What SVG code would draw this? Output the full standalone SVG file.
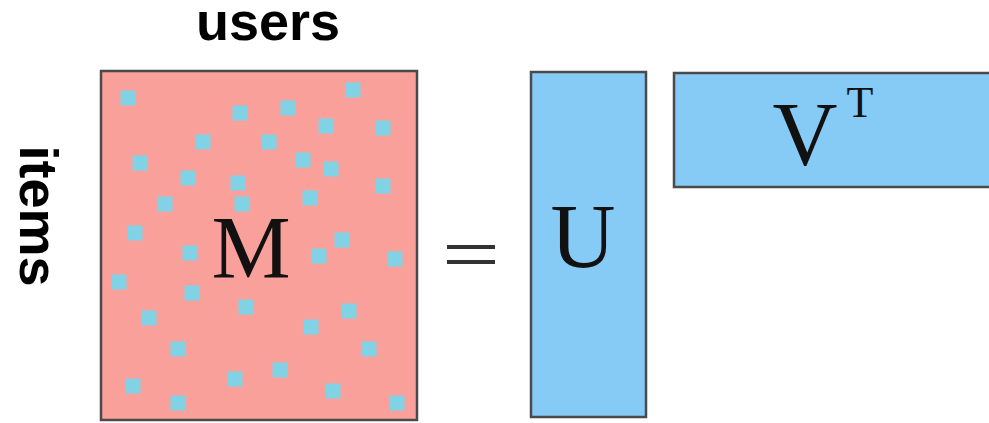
<svg xmlns="http://www.w3.org/2000/svg" width="989" height="423" viewBox="0 0 989 423">
<style>
.lbl{font-family:"Liberation Sans",Arial,sans-serif;font-weight:bold;font-size:54px;fill:#000}
.sym{font-family:"Liberation Serif","Times New Roman",serif;fill:#111}
.mat{stroke:#4a4a4a;stroke-width:2.5}
.dot{fill:#82d2e6}
</style>
<defs>
<rect id="d" width="15" height="15" class="dot"/>
</defs>
<rect width="989" height="423" fill="#fff"/>
<g id="labels">
<text class="lbl" x="268" y="40" text-anchor="middle">users</text>
<text class="lbl" transform="translate(20,216) rotate(90)" text-anchor="middle">items</text>
</g>
<g id="M">
<rect class="mat" x="101" y="71" width="316" height="349" fill="#f9a09b"/>
<g transform="translate(-7.5,-7.5)">
<use href="#d" x="128" y="98"/><use href="#d" x="353" y="90"/><use href="#d" x="240" y="113"/>
<use href="#d" x="288" y="108"/><use href="#d" x="326" y="126"/><use href="#d" x="383" y="128"/>
<use href="#d" x="203" y="142"/><use href="#d" x="269" y="142"/><use href="#d" x="140" y="163"/>
<use href="#d" x="303" y="160"/><use href="#d" x="331" y="169"/><use href="#d" x="188" y="178"/>
<use href="#d" x="238" y="183"/><use href="#d" x="383" y="186"/><use href="#d" x="165" y="204"/>
<use href="#d" x="242" y="204"/><use href="#d" x="310" y="198"/><use href="#d" x="135" y="233"/>
<use href="#d" x="342" y="240"/><use href="#d" x="190" y="253"/><use href="#d" x="319" y="256"/>
<use href="#d" x="395" y="259"/><use href="#d" x="119" y="282"/><use href="#d" x="192" y="293"/>
<use href="#d" x="246" y="307"/><use href="#d" x="349" y="311"/><use href="#d" x="149" y="318"/>
<use href="#d" x="311" y="327"/><use href="#d" x="178" y="349"/><use href="#d" x="369" y="349"/>
<use href="#d" x="280" y="370"/><use href="#d" x="235" y="379"/><use href="#d" x="133" y="386"/>
<use href="#d" x="333" y="391"/><use href="#d" x="178" y="403"/><use href="#d" x="397" y="403"/>
</g>
<text class="sym" x="251" y="277" font-size="89" text-anchor="middle">M</text>
</g>
<g id="equals" fill="#333">
<rect x="447" y="245" width="48" height="4"/>
<rect x="447" y="260" width="48" height="4"/>
</g>
<g id="U">
<rect class="mat" x="531" y="72" width="115" height="345" fill="#86caf6"/>
<text class="sym" x="583" y="267" font-size="90" text-anchor="middle">U</text>
</g>
<g id="VT">
<rect class="mat" x="674" y="73" width="330" height="114" fill="#86caf6"/>
<text class="sym" x="805" y="165" font-size="90" text-anchor="middle">V</text>
<text class="sym" x="860" y="117" font-size="44" text-anchor="middle">T</text>
</g>
</svg>
